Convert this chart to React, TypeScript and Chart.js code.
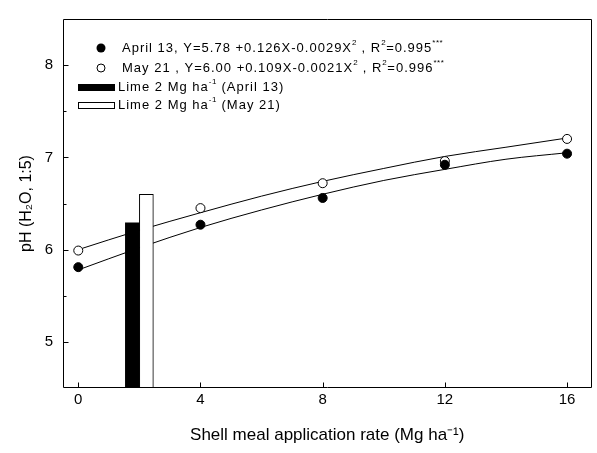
import { useEffect, useRef } from 'react';
import { Chart, registerables } from 'chart.js';

Chart.register(...registerables);

// ---- data ----
const rates = [0, 4, 8, 12, 16];
const april13 = [5.81, 6.27, 6.56, 6.92, 7.04];
const may21 = [5.99, 6.45, 6.72, 6.96, 7.2];
const fitX = [0, 2, 4, 6, 8, 10, 12, 14, 16];
const aprilFit = [5.78, 6.02, 6.24, 6.43, 6.6, 6.75, 6.87, 6.98, 7.05];
const mayFit = [6.0, 6.21, 6.4, 6.58, 6.74, 6.88, 7.01, 7.11, 7.21];
const limeRate = [2];
const limeApril = [6.29];
const limeMay = [6.6];
const xTicks = [0, 4, 8, 12, 16];
const yTicks = [5, 6, 7, 8];
const yMinorTicks = [5.5, 6.5, 7.5];

type Seg = { t: string; sup?: boolean };
const legendApril: Seg[] = [
  { t: 'April 13, Y=5.78 +0.126X-0.0029X' }, { t: '2', sup: true },
  { t: ' , R' }, { t: '2', sup: true }, { t: '=0.995' }, { t: '***', sup: true },
];
const legendMay: Seg[] = [
  { t: 'May 21 , Y=6.00 +0.109X-0.0021X' }, { t: '2', sup: true },
  { t: ' , R' }, { t: '2', sup: true }, { t: '=0.996' }, { t: '***', sup: true },
];
const legendLimeApril: Seg[] = [{ t: 'Lime 2 Mg ha' }, { t: '-1', sup: true }, { t: ' (April 13)' }];
const legendLimeMay: Seg[] = [{ t: 'Lime 2 Mg ha' }, { t: '-1', sup: true }, { t: ' (May 21)' }];

const FONT = '"Liberation Sans", Arial, sans-serif';

function drawRich(ctx: any, segs: Seg[], x: number, y: number) {
  let cx = x;
  for (const s of segs) {
    ctx.font = s.sup ? `8px ${FONT}` : `13px ${FONT}`;
    ctx.letterSpacing = s.sup ? '0.5px' : '1px';
    ctx.fillText(s.t, cx, s.sup ? y - 5 : y);
    cx += ctx.measureText(s.t).width;
  }
  ctx.letterSpacing = '0px';
}

const decorPlugin = {
  id: 'decor',
  afterDatasetsDraw(chart: any) {
    const { ctx, chartArea: a, scales } = chart;
    ctx.save();
    ctx.strokeStyle = '#000';
    ctx.lineWidth = 1;
    const L = Math.round(a.left) + 0.5;
    const T = Math.round(a.top) + 0.5;
    const R = Math.round(a.right) - 0.5;
    const B = Math.round(a.bottom) - 0.5;
    ctx.beginPath();
    ctx.moveTo(L, T); ctx.lineTo(R, T); ctx.lineTo(R, B); ctx.lineTo(L, B); ctx.closePath();
    for (const v of yTicks) {
      const p = Math.round(scales.y.getPixelForValue(v)) + 0.5;
      ctx.moveTo(L, p); ctx.lineTo(L + 5, p);
    }
    for (const v of yMinorTicks) {
      const p = Math.round(scales.y.getPixelForValue(v)) + 0.5;
      ctx.moveTo(L, p); ctx.lineTo(L + 3, p);
    }
    for (const v of xTicks) {
      const p = Math.round(scales.x.getPixelForValue(v)) + 0.5;
      ctx.moveTo(p, B); ctx.lineTo(p, B - 5);
    }
    ctx.stroke();
    ctx.restore();
  },
  afterDraw(chart: any) {
    const { ctx, chartArea: a } = chart;
    ctx.save();
    ctx.fillStyle = '#000';
    ctx.strokeStyle = '#000';
    ctx.lineWidth = 1;
    ctx.textBaseline = 'middle';
    ctx.textAlign = 'left';
    const mx = a.left + 38;
    const rows = [a.top + 29, a.top + 49, a.top + 68, a.top + 86];
    ctx.beginPath(); ctx.arc(mx, rows[0], 4.5, 0, Math.PI * 2); ctx.fill();
    ctx.beginPath(); ctx.arc(mx, rows[1], 4, 0, Math.PI * 2);
    ctx.fillStyle = '#fff'; ctx.fill(); ctx.stroke();
    ctx.fillStyle = '#000';
    ctx.fillRect(a.left + 15, rows[2] - 3, 37, 7);
    ctx.fillStyle = '#fff';
    ctx.fillRect(a.left + 15, rows[3] - 3, 37, 7);
    ctx.strokeRect(a.left + 15.5, rows[3] - 2.5, 36, 6);
    ctx.fillStyle = '#000';
    drawRich(ctx, legendApril, a.left + 59, rows[0]);
    drawRich(ctx, legendMay, a.left + 59, rows[1]);
    drawRich(ctx, legendLimeApril, a.left + 55, rows[2]);
    drawRich(ctx, legendLimeMay, a.left + 55, rows[3]);
    ctx.restore();
  },
};

export default function App() {
  const ref = useRef<HTMLCanvasElement | null>(null);
  useEffect(() => {
    document.body.style.margin = '0';
    document.body.style.overflow = 'hidden';
    const canvas = ref.current;
    if (!canvas) return;
    const chart = new Chart(canvas, {
      type: 'bar',
      data: {
        datasets: [
          {
            type: 'bar',
            label: 'Lime 2 Mg ha-1 (April 13)',
            data: limeRate.map((x, i) => ({ x, y: limeApril[i] })),
            backgroundColor: '#000',
            borderColor: '#000',
            borderWidth: 0,
            barThickness: 14,
            order: 0,
          },
          {
            type: 'bar',
            label: 'Lime 2 Mg ha-1 (May 21)',
            data: limeRate.map((x, i) => ({ x, y: limeMay[i] })),
            backgroundColor: '#fff',
            borderColor: '#000',
            borderWidth: 1,
            barThickness: 14,
            order: 0,
          },
          {
            type: 'line',
            label: 'April 13',
            data: rates.map((x, i) => ({ x, y: april13[i] })),
            showLine: false,
            pointRadius: 4.5,
            pointBackgroundColor: '#000',
            pointBorderColor: '#000',
            pointBorderWidth: 1,
            order: 1,
          },
          {
            type: 'line',
            label: 'May 21',
            data: rates.map((x, i) => ({ x, y: may21[i] })),
            showLine: false,
            pointRadius: 4.5,
            pointBackgroundColor: '#fff',
            pointBorderColor: '#000',
            pointBorderWidth: 1,
            order: 1,
          },
          {
            type: 'line',
            label: 'April 13 fit',
            data: fitX.map((x, i) => ({ x, y: aprilFit[i] })),
            borderColor: '#000',
            borderWidth: 1,
            pointRadius: 0,
            cubicInterpolationMode: 'monotone',
            order: 2,
          },
          {
            type: 'line',
            label: 'May 21 fit',
            data: fitX.map((x, i) => ({ x, y: mayFit[i] })),
            borderColor: '#000',
            borderWidth: 1,
            pointRadius: 0,
            cubicInterpolationMode: 'monotone',
            order: 2,
          },
        ] as any,
      },
      options: {
        responsive: false,
        animation: false,
        layout: { padding: { top: 14, right: 2, left: 0, bottom: 0 } },
        plugins: { legend: { display: false }, tooltip: { enabled: false } },
        font: { family: FONT },
        scales: {
          x: {
            type: 'linear',
            offset: false,
            min: -0.5,
            max: 16.8,
            grid: { display: false, drawTicks: false, offset: false },
            border: { display: false },
            afterBuildTicks: (s: any) => { s.ticks = xTicks.map((v) => ({ value: v })); },
            afterFit: (s: any) => { s.height = 65; },
            ticks: { color: '#000', padding: 3, font: { size: 15, family: FONT } },
            title: {
              display: true,
              text: 'Shell meal application rate (Mg ha⁻¹)',
              color: '#000',
              font: { size: 17, family: FONT, weight: 'normal' },
              padding: { top: 0, bottom: 7 },
            },
          },
          y: {
            type: 'linear',
            min: 4.5,
            max: 8.5,
            grid: { display: false, drawTicks: false },
            border: { display: false },
            afterBuildTicks: (s: any) => { s.ticks = yTicks.map((v) => ({ value: v })); },
            afterFit: (s: any) => { s.width = 63; },
            ticks: { color: '#000', padding: 10, font: { size: 15, family: FONT } },
            title: {
              display: true,
              text: 'pH (H₂O, 1:5)',
              color: '#000',
              font: { size: 16, family: FONT, weight: 'normal' },
              padding: { top: 17, bottom: 0 },
            },
          },
        },
      } as any,
      plugins: [decorPlugin],
    });
    return () => chart.destroy();
  }, []);
  return <canvas ref={ref} width={597} height={453} style={{ display: 'block' }} />;
}
